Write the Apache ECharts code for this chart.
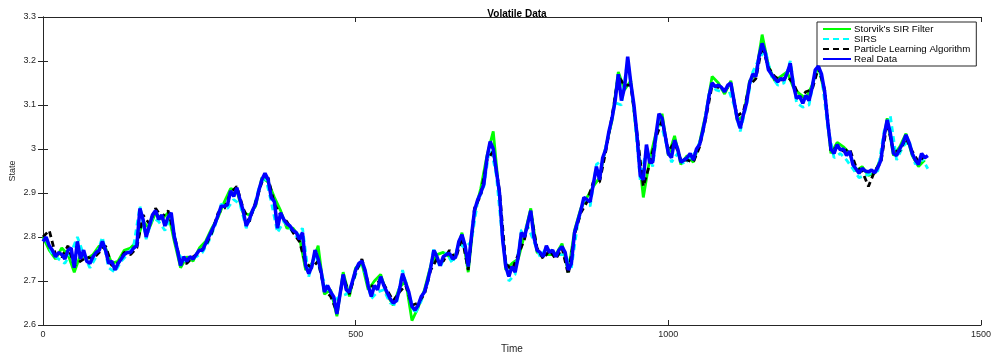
<!DOCTYPE html>
<html><head><meta charset="utf-8">
<script src="https://cdn.jsdelivr.net/npm/echarts@6/dist/echarts.min.js"></script>
<style>html,body{margin:0;padding:0;background:#fff}#c{width:994px;height:352px}</style>
</head><body><div id="c"></div>
<script>
// ---- data ----
const titleText = 'Volatile Data';
const xName = 'Time';
const yName = 'State';
const seriesNames = ["Storvik's SIR Filter", 'SIRS', 'Particle Learning Algorithm', 'Real Data'];
const xTicks = [0, 500, 1000, 1500];
const yTicks = [2.6, 2.7, 2.8, 2.9, 3.0, 3.1, 3.2, 3.3];

// Real data: t = 0, 5, 10, ...
const realStart = 0, realStep = 5;
const realValues = [
2.79,2.80,2.78,2.77,2.755,2.765,2.76,2.75,2.77,2.775,
2.73,2.79,2.75,2.77,2.745,2.74,2.755,2.765,2.77,2.79,
2.77,2.74,2.745,2.725,2.74,2.75,2.76,2.765,2.765,2.775,
2.78,2.865,2.84,2.80,2.825,2.85,2.86,2.84,2.85,2.825,
2.845,2.855,2.80,2.77,2.735,2.755,2.745,2.755,2.75,2.76,
2.77,2.77,2.785,2.80,2.815,2.83,2.85,2.87,2.87,2.873,
2.905,2.892,2.912,2.885,2.86,2.825,2.84,2.86,2.875,2.905,
2.93,2.945,2.93,2.89,2.88,2.82,2.855,2.84,2.83,2.825,
2.815,2.81,2.795,2.81,2.735,2.717,2.733,2.77,2.75,2.72,
2.675,2.69,2.675,2.664,2.625,2.67,2.715,2.68,2.675,2.70,
2.725,2.74,2.745,2.725,2.69,2.665,2.69,2.68,2.71,2.69,
2.675,2.66,2.65,2.655,2.68,2.717,2.695,2.675,2.642,2.634,
2.645,2.665,2.675,2.70,2.73,2.77,2.755,2.735,2.755,2.76,
2.763,2.75,2.755,2.79,2.805,2.78,2.733,2.80,2.86,2.884,
2.90,2.92,2.98,3.017,3.00,2.95,2.90,2.795,2.733,2.71,
2.733,2.72,2.755,2.81,2.80,2.83,2.86,2.80,2.77,2.765,
2.755,2.78,2.765,2.77,2.755,2.77,2.778,2.765,2.725,2.74,
2.81,2.835,2.86,2.89,2.885,2.88,2.92,2.96,2.93,2.98,
3.00,3.04,3.07,3.11,3.17,3.11,3.14,3.21,3.15,3.10,
3.03,2.94,2.93,3.01,2.97,2.97,3.03,3.08,3.07,3.03,
2.99,2.98,3.02,3.00,2.97,2.975,2.98,2.99,2.975,3.00,
3.01,3.04,3.075,3.12,3.15,3.142,3.145,3.14,3.13,3.145,
3.15,3.11,3.07,3.047,3.078,3.104,3.15,3.17,3.165,3.21,
3.24,3.218,3.18,3.17,3.16,3.153,3.16,3.157,3.172,3.195,
3.145,3.115,3.12,3.104,3.122,3.11,3.14,3.18,3.188,3.17,
3.13,3.06,3.00,2.99,3.01,2.998,3.00,2.985,2.995,2.965,
2.955,2.945,2.956,2.95,2.948,2.952,2.946,2.958,2.975,3.03,
3.066,3.036,2.99,2.985,3.00,3.013,3.032,3.015,2.99,2.975,
2.965,2.99,2.98,2.985
];

// Storvik's SIR filter: t = 0, 10, 20, ...
const storvikStart = 0, storvikStep = 10;
const storvikValues = [
2.80,2.77,2.75,2.775,2.76,2.72,2.76,2.75,2.76,2.78,
2.775,2.74,2.745,2.77,2.775,2.79,2.835,2.82,2.855,2.84,
2.855,2.79,2.73,2.755,2.745,2.775,2.79,2.82,2.845,2.88,
2.91,2.905,2.855,2.85,2.87,2.935,2.925,2.89,2.86,2.82,
2.82,2.80,2.725,2.74,2.78,2.67,2.68,2.62,2.72,2.665,
2.73,2.74,2.68,2.70,2.715,2.67,2.645,2.685,2.70,2.61,
2.64,2.68,2.735,2.76,2.765,2.755,2.76,2.81,2.72,2.855,
2.91,2.985,3.04,2.89,2.725,2.74,2.75,2.805,2.865,2.765,
2.76,2.76,2.76,2.785,2.72,2.815,2.865,2.89,2.915,2.935,
3.005,3.065,3.175,3.135,3.155,3.02,2.89,2.975,3.035,3.08,
2.985,3.03,2.965,2.985,2.97,3.015,3.08,3.165,3.15,3.125,
3.155,3.065,3.075,3.155,3.17,3.26,3.19,3.155,3.165,3.175,
3.14,3.125,3.115,3.145,3.19,3.125,2.99,3.015,3.005,2.99,
2.95,2.96,2.94,2.945,2.98,3.07,2.985,3.005,3.035,2.985,
2.96,2.975
];

// SIRS: t = 5, 15, 25, ...
const sirsStart = 5, sirsStep = 10;
const sirsValues = [
2.795,2.76,2.75,2.74,2.765,2.80,2.76,2.73,2.755,2.80,
2.73,2.72,2.745,2.76,2.78,2.87,2.795,2.845,2.835,2.815,
2.85,2.765,2.745,2.75,2.755,2.765,2.79,2.825,2.875,2.865,
2.885,2.875,2.82,2.855,2.91,2.94,2.88,2.81,2.835,2.82,
2.80,2.82,2.71,2.765,2.715,2.68,2.655,2.665,2.67,2.695,
2.735,2.72,2.66,2.675,2.68,2.65,2.645,2.725,2.67,2.625,
2.655,2.695,2.775,2.73,2.765,2.74,2.785,2.775,2.79,2.88,
2.915,3.01,2.94,2.79,2.70,2.715,2.815,2.825,2.79,2.755,
2.775,2.765,2.76,2.76,2.73,2.83,2.885,2.87,2.965,2.975,
3.035,3.105,3.10,3.205,3.09,2.93,3.00,2.96,3.075,3.02,
2.97,2.99,2.965,2.98,2.995,3.035,3.125,3.135,3.13,3.14,
3.10,3.04,3.10,3.175,3.205,3.225,3.165,3.145,3.15,3.20,
3.105,3.095,3.10,3.175,3.165,3.05,2.98,2.99,2.975,2.955,
2.935,2.94,2.945,2.95,3.04,3.075,2.975,3.005,3.02,2.965,
2.98,2.955
];

// Particle Learning Algorithm: t = 0, 10, 20, ...
const plStart = 0, plStep = 10;
const plValues = [
2.80,2.815,2.76,2.755,2.78,2.735,2.745,2.755,2.75,2.765,
2.78,2.735,2.74,2.765,2.76,2.775,2.85,2.83,2.865,2.845,
2.86,2.805,2.74,2.74,2.755,2.765,2.78,2.81,2.855,2.865,
2.90,2.915,2.865,2.835,2.88,2.925,2.935,2.875,2.85,2.835,
2.81,2.79,2.74,2.73,2.745,2.68,2.665,2.63,2.71,2.67,
2.72,2.75,2.695,2.685,2.705,2.68,2.655,2.675,2.69,2.645,
2.65,2.67,2.725,2.75,2.745,2.77,2.75,2.80,2.725,2.865,
2.895,2.975,2.995,2.905,2.74,2.725,2.76,2.795,2.855,2.775,
2.75,2.77,2.75,2.775,2.715,2.805,2.855,2.88,2.925,2.925,
2.995,3.075,3.165,3.145,3.145,3.035,2.915,2.965,3.025,3.065,
2.995,3.015,2.975,2.975,2.97,3.005,3.07,3.145,3.14,3.135,
3.145,3.075,3.085,3.145,3.16,3.235,3.185,3.165,3.155,3.165,
3.15,3.115,3.13,3.135,3.185,3.135,2.995,3.005,2.995,3.00,
2.96,2.95,2.915,2.95,2.97,3.06,2.995,2.995,3.025,2.995,
2.97,2.985
];

// ---- chart ----
function pairs(start, step, vals) { return vals.map((v, i) => [start + i * step, v]); }

const txt = '#262626';
const font = 'Liberation Sans, Arial, Helvetica, sans-serif';
const chart = echarts.init(document.getElementById('c'), null, { renderer: 'canvas' });

const axisCommon = {
  axisLine: { show: true, lineStyle: { color: txt, width: 1 } },
  axisTick: { show: true, inside: true, length: 5, lineStyle: { color: txt } },
  splitLine: { show: false }
};

chart.setOption({
  animation: false,
  backgroundColor: '#fff',
  title: {
    text: titleText, left: 512, top: 4, textAlign: 'center',
    textStyle: { fontFamily: font, fontSize: 10, fontWeight: 'bold', color: '#000' }
  },
  legend: {
    data: seriesNames, orient: 'vertical', left: 817, top: 22,
    itemWidth: 28, itemHeight: 9, itemGap: 0,
    padding: [2, 6, 2, 5],
    borderColor: txt, borderWidth: 1, backgroundColor: '#fff',
    itemStyle: { opacity: 0 },
    textStyle: { fontFamily: font, fontSize: 9.7, color: '#000', padding: [0, 0, 0, -2] }
  },
  grid: { left: 43, right: 13, top: 17, bottom: 27, outerBoundsMode: 'none', containLabel: false },
  xAxis: [
    Object.assign({
      type: 'value', min: xTicks[0], max: xTicks[xTicks.length - 1], interval: 500,
      position: 'bottom', name: xName, nameLocation: 'middle', nameGap: 15,
      nameTextStyle: { fontFamily: font, fontSize: 10, color: txt },
      axisLabel: { fontFamily: font, fontSize: 9, color: txt, margin: 5, formatter: v => String(v) }
    }, axisCommon),
    Object.assign({
      type: 'value', min: xTicks[0], max: xTicks[xTicks.length - 1], interval: 500,
      position: 'top', axisLabel: { show: false }
    }, axisCommon)
  ],
  yAxis: [
    Object.assign({
      type: 'value', min: yTicks[0], max: yTicks[yTicks.length - 1], interval: 0.1,
      position: 'left', name: yName, nameLocation: 'middle', nameGap: 26, nameRotate: 90,
      nameMoveOverlap: false,
      nameTextStyle: { fontFamily: font, fontSize: 9, color: txt },
      axisLabel: { fontFamily: font, fontSize: 9, color: txt, margin: 7,
        formatter: v => String(+v.toFixed(1)) }
    }, axisCommon),
    Object.assign({
      type: 'value', min: yTicks[0], max: yTicks[yTicks.length - 1], interval: 0.1,
      position: 'right', axisLabel: { show: false }
    }, axisCommon)
  ],
  series: [
    { name: seriesNames[0], type: 'line', data: pairs(storvikStart, storvikStep, storvikValues),
      symbol: 'none', color: '#00ff00', lineStyle: { width: 2.8, color: '#00ff00' }, z: 2 },
    { name: seriesNames[1], type: 'line', data: pairs(sirsStart, sirsStep, sirsValues),
      symbol: 'none', color: '#00ffff', lineStyle: { width: 2.8, color: '#00ffff', type: [6, 4] }, z: 3 },
    { name: seriesNames[2], type: 'line', data: pairs(plStart, plStep, plValues),
      symbol: 'none', color: '#000000', lineStyle: { width: 2.8, color: '#000000', type: [6, 4] }, z: 4 },
    { name: seriesNames[3], type: 'line', data: pairs(realStart, realStep, realValues),
      symbol: 'none', color: '#0000ff', lineStyle: { width: 3.5, color: '#0000ff' }, z: 5 }
  ]
});
</script>
</body></html>
